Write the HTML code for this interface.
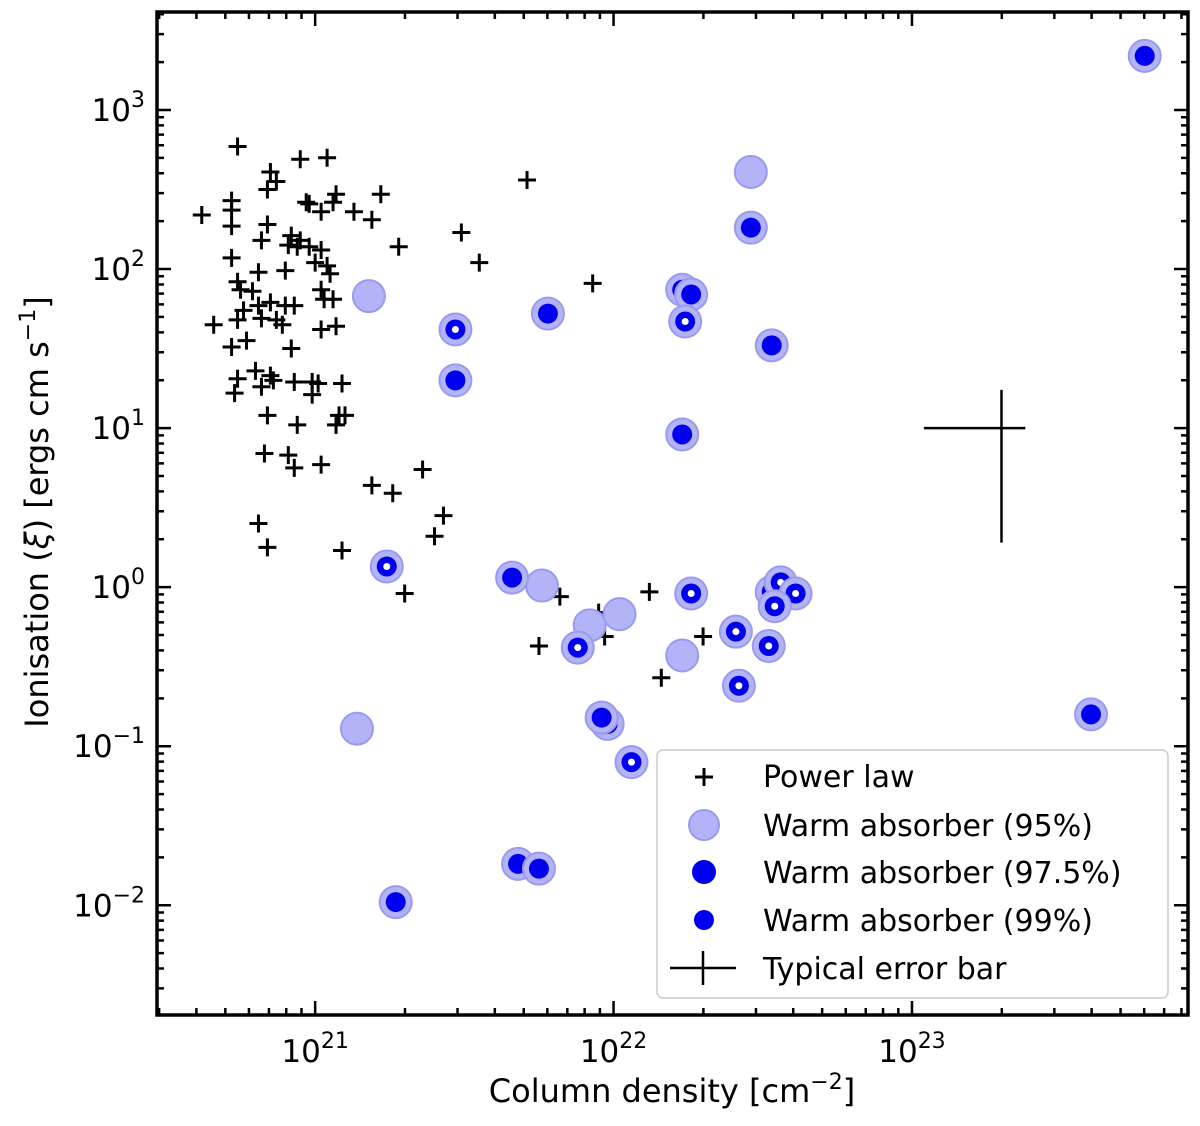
<!DOCTYPE html>
<html><head><meta charset="utf-8"><style>
body{margin:0;background:#fff}
svg{display:block;font-family:"DejaVu Sans","Liberation Sans",sans-serif}
</style></head><body>
<svg id="chart" width="1200" height="1126" viewBox="0 0 1200 1126" xmlns="http://www.w3.org/2000/svg">
<g id="marks"></g>
<g id="axes"></g>
<text x="672" y="1102" font-size="32" text-anchor="middle">Column density [cm<tspan dy="-13" font-size="22">−2</tspan><tspan dy="13">]</tspan></text>
<text transform="translate(48,512) rotate(-90)" font-size="32" text-anchor="middle">Ionisation (<tspan font-style="italic">ξ</tspan>) [ergs cm s<tspan dy="-13" font-size="22">−1</tspan><tspan dy="13">]</tspan></text>
<g>
<rect x="657" y="750" width="511" height="248" rx="6" fill="#fff" stroke="#ccc" stroke-width="1.5"/>
<g><path d="M695 777h18M704 768v18" stroke="#000" stroke-width="3"/><text x="763" y="787" font-size="30">Power law</text></g>
<g><circle cx="704" cy="825" r="15" fill="#b3b3f7" stroke="#9a9af0" stroke-width="2"/><text x="763" y="836" font-size="30">Warm absorber (95%)</text></g>
<g><circle cx="704" cy="872" r="12" fill="#0000ee"/><text x="763" y="883" font-size="30">Warm absorber (97.5%)</text></g>
<g><circle cx="704" cy="920" r="10" fill="#0000ee"/><text x="763" y="931" font-size="30">Warm absorber (99%)</text></g>
<g><path d="M670 968h66M703 951v34" stroke="#000" stroke-width="2.5"/><text x="763" y="979" font-size="30">Typical error bar</text></g>
</g>
</svg>
<script>
const plN=[20.74,20.62,20.72,20.72,20.72,20.87,20.95,21.04,20.98,21.02,21.07,21.06,21.13,21.19,21.22,21.28,21.49,21.55,21.71,21.93,20.72,20.74,20.75,20.81,20.82,20.84,20.84,20.85,20.91,20.90,20.92,20.94,20.95,20.98,21.00,20.97,21.02,21.04,21.05,21.02,21.03,21.06,21.02,21.07,20.74,20.66,20.72,20.77,20.76,20.79,20.81,20.82,20.85,20.87,20.90,20.89,20.92,20.93,20.80,20.74,20.73,20.82,20.85,20.86,20.93,20.99,21.01,21.09,20.99,21.08,21.07,21.10,20.84,20.94,20.83,20.91,20.93,21.02,21.19,21.26,21.36,21.43,21.40,20.81,20.84,21.09,21.30,21.82,22.12,21.95,21.97,21.75,22.30,22.16];
const plXi=[2.77,2.34,2.43,2.37,2.27,2.55,2.69,2.70,2.41,2.36,2.47,2.42,2.36,2.31,2.47,2.14,2.23,2.04,2.56,1.91,2.07,1.92,1.87,1.98,2.18,2.28,2.50,2.61,2.15,1.99,2.21,2.14,2.18,2.14,2.04,2.42,2.12,2.02,1.97,1.87,1.81,1.81,1.62,1.64,1.68,1.65,1.51,1.55,1.74,1.86,1.77,1.69,1.79,1.68,1.77,1.65,1.50,1.77,1.36,1.31,1.22,1.26,1.33,1.30,1.29,1.29,1.28,1.28,1.21,1.08,1.02,1.08,1.08,1.02,0.84,0.83,0.75,0.77,0.64,0.59,0.74,0.45,0.32,0.40,0.25,0.23,-0.04,-0.06,-0.03,-0.16,-0.31,-0.37,-0.31,-0.57];
const w95N=[22.46,21.18,21.14,21.76,22.02,21.92,22.23];
const w95Xi=[2.61,1.83,-0.89,0.01,-0.17,-0.24,-0.43];
const w975N=[23.78,22.46,21.78,21.47,22.23,22.23,22.26,22.53,21.66,23.60,21.98,21.96,21.68,21.75,21.27];
const w975Xi=[3.34,2.26,1.72,1.30,0.96,1.87,1.84,1.52,0.06,-0.80,-0.86,-0.82,-1.74,-1.77,-1.98];
const w99N=[21.47,21.24,22.24,22.26,21.88,22.53,22.56,22.61,22.41,22.52,22.54,22.42,22.06];
const w99Xi=[1.62,0.13,1.67,-0.04,-0.38,-0.03,0.03,-0.04,-0.28,-0.37,-0.12,-0.62,-1.10];
const errN=[23.3], errXi=[1.0], errNlo=[23.04], errNhi=[23.38], errXilo=[0.28], errXihi=[1.24];
const xTicks=[21,22,23], yTicks=[-2,-1,0,1,2,3];

const L=157,R=1188,T=12,B=1015;
const X0=20.47,X1=23.925,Y0=-2.69,Y1=3.616;
const sx=v=>L+(v-X0)/(X1-X0)*(R-L);
const sy=v=>B-(v-Y0)/(Y1-Y0)*(B-T);
const NS='http://www.w3.org/2000/svg';
const marks=document.getElementById('marks'),axes=document.getElementById('axes');
function mk(tag,attrs,parent){const e=document.createElementNS(NS,tag);for(const k in attrs)e.setAttribute(k,attrs[k]);parent.appendChild(e);return e;}

plN.forEach((n,i)=>{const x=sx(n),y=sy(plXi[i]);
 const p=mk('path',{d:`M${x-9} ${y}h18M${x} ${y-9}v18`,stroke:'#000','stroke-width':3},marks);
 
 });
function halo(n,xi){const c=mk('circle',{cx:sx(n),cy:sy(xi),r:16,fill:'#b3b3f7',stroke:'#9a9af0','stroke-width':2},marks);
 
 }
w95N.forEach((n,i)=>halo(n,w95Xi[i]));
w975N.forEach((n,i)=>{halo(n,w975Xi[i]);
 const c=mk('circle',{cx:sx(n),cy:sy(w975Xi[i]),r:10,fill:'#0000ee'},marks);
 
 });
w99N.forEach((n,i)=>{halo(n,w99Xi[i]);
 const c=mk('circle',{cx:sx(n),cy:sy(w99Xi[i]),r:10,fill:'#0000ee'},marks);
 
 
 mk('circle',{cx:sx(n),cy:sy(w99Xi[i]),r:3.5,fill:'#fff'},marks);});
errN.forEach((n,i)=>{const e=mk('path',{d:`M${sx(errNlo[i])} ${sy(errXi[i])}H${sx(errNhi[i])}M${sx(n)} ${sy(errXihi[i])}V${sy(errXilo[i])}`,stroke:'#000','stroke-width':2.5,fill:'none'},marks);
 
 });

mk('rect',{x:L,y:T,width:R-L,height:B-T,fill:'none',stroke:'#000','stroke-width':3.5},axes);
let d='';
for(let dec=20;dec<=24;dec++)for(let m=1;m<10;m++){const v=dec+Math.log10(m);if(v<X0||v>X1)continue;const x=sx(v),len=m===1?14:7;d+=`M${x} ${B}v${-len}M${x} ${T}v${len}`;}
for(let dec=-3;dec<=4;dec++)for(let m=1;m<10;m++){const v=dec+Math.log10(m);if(v<Y0||v>Y1)continue;const y=sy(v),len=m===1?14:7;d+=`M${L} ${y}h${len}M${R} ${y}h${-len}`;}
mk('path',{d:d,stroke:'#000','stroke-width':2.5},axes);
xTicks.forEach(v=>{const t=mk('text',{x:sx(v),y:B+47,'font-size':31,'text-anchor':'middle'},axes);
 
 
 t.innerHTML=`10<tspan dy="-14" font-size="22">${v}</tspan>`;});
yTicks.forEach(v=>{const t=mk('text',{x:L-12,y:sy(v)+11,'font-size':31,'text-anchor':'end'},axes);
 
 
 const s=v<0?'−'+(-v):''+v;
 t.innerHTML=`10<tspan dy="-14" font-size="22">${s}</tspan><tspan dy="14" font-size="1"> </tspan>`;});
</script>
</body></html>
